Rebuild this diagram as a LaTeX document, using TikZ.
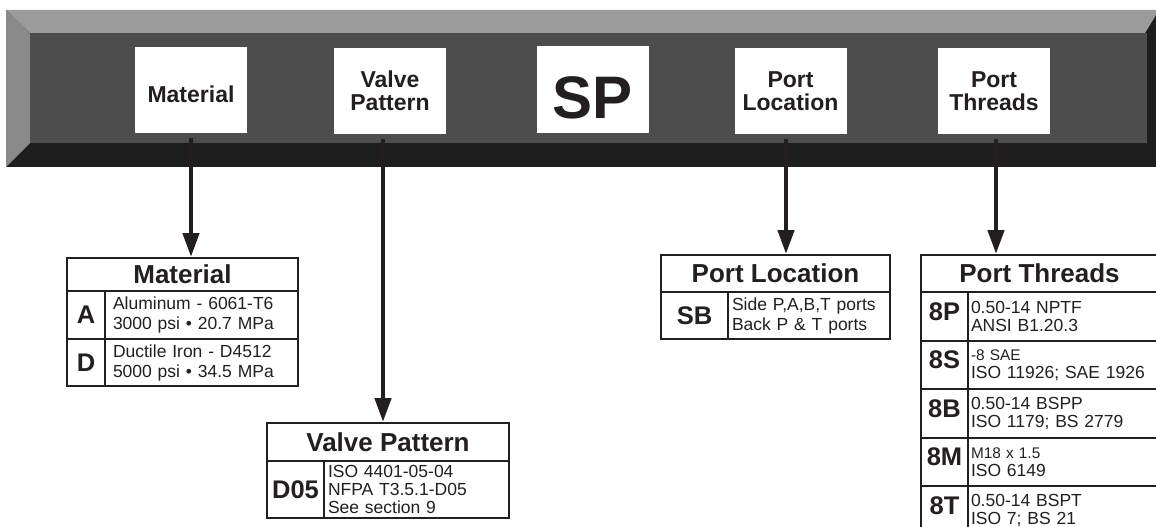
\documentclass[tikz,border=0pt]{standalone}
\usepackage{fontspec}
\usepackage{graphicx}
\setmainfont{Liberation Sans}
\usetikzlibrary{arrows.meta,math}
\definecolor{ink}{HTML}{231F20}
\definecolor{barlight}{HTML}{9B9B9B}
\definecolor{barside}{HTML}{8A8A8A}
\definecolor{barface}{HTML}{4D4D4D}
\definecolor{bardark}{HTML}{1E1E1E}
\tikzset{
  keybox/.style={fill=white, minimum width=112pt, minimum height=86pt, inner sep=0pt, align=center, text=ink,
    font=\fontsize{23}{22.5}\selectfont\bfseries},
  tabhead/.style={draw=ink, line width=2pt, anchor=north west, inner sep=0pt, text=ink,
    font=\fontsize{26}{28}\selectfont\bfseries},
  codecell/.style={draw=ink, line width=2pt, anchor=north west, inner sep=0pt, text=ink,
    font=\fontsize{25.5}{28}\selectfont\bfseries},
  lead/.style={font=\fontsize{17.5}{#1}\selectfont, execute at begin node={\fontsize{17.5}{#1}\selectfont}},
  desccell/.style={draw=ink, line width=2pt, anchor=north west, inner ysep=0pt, inner xsep=4pt, align=left, text=ink,
    lead=20pt},
  feed/.style={draw=ink, line width=4.5pt, -{Triangle[width=16pt,length=24pt]}, shorten <=5pt},
}
\begin{document}
\begin{tikzpicture}[x=1pt, y=-1pt]
  \tikzmath{\bl = 6; \bt = 10; \br = 1156; \bb = 167; \fl = 30; \ft = 33; \fr = 1147; \fb = 143;}
  \useasboundingbox (0,0) rectangle (1156,527);
  \clip (0,0) rectangle (1156,527);
  \fill[white] (0,0) rectangle (1156,527);
  % bar
  \fill[bardark] (\bl,\bt) rectangle (\br,\bb);
  \fill[barlight] (\bl,\bt) -- (\br,\bt) -- (\br,15) -- (1145,\ft) -- (\fl,\ft) -- cycle;
  \fill[barside] (\bl,\bt) -- (\fl,\ft) -- (\fl,\fb) -- (\bl,\bb) -- cycle;
  \fill[barface] (\fl,\ft) rectangle (\fr,\fb);
  \node[keybox, text height=25.5pt] (matbox) at (191,90) {Material};
  \node[keybox] (vpbox) at (390,91) {Valve\\Pattern};
  \node[keybox, text height=59pt, font=\fontsize{60}{60}\selectfont\bfseries] (spbox) at (592.5,89.5) {SP};
  \node[keybox] (plbox) at (790.5,91) {Port\\Location};
  \node[keybox] (ptbox) at (994,91) {Port\\Threads};
  % material
  \node[tabhead, minimum width=231pt, minimum height=33pt] (mattab) at (66,257) {Material};
  \node[codecell, minimum width=38pt, minimum height=48pt] (matA) at (66,290) {A};
  \node[desccell, minimum width=193pt, minimum height=48pt, inner xsep=8pt, text width=177pt] (matAd) at (104,290)
    {Aluminum - 6061-T6\\3000 psi \textbullet{} 20.7 MPa};
  \node[codecell, minimum width=38pt, minimum height=47pt] (matD) at (66,338) {D};
  \node[desccell, minimum width=193pt, minimum height=47pt, inner xsep=8pt, text width=177pt] (matDd) at (104,338)
    {Ductile Iron - D4512\\5000 psi \textbullet{} 34.5 MPa};
  % valve pattern
  \node[tabhead, minimum width=242pt, minimum height=38pt] (vptab) at (266,422) {Valve Pattern};
  \node[codecell, minimum width=57pt, minimum height=57pt] (vpD) at (266,460) {D05};
  \node[desccell, minimum width=185pt, minimum height=57pt, text width=177pt, lead=18pt] (vpDd) at (323,460)
    {ISO 4401-05-04\\NFPA T3.5.1-D05\\See section 9};
  % port location
  \node[tabhead, minimum width=229pt, minimum height=37pt] (pltab) at (660,254) {Port Location};
  \node[codecell, minimum width=67pt, minimum height=47pt] (plSB) at (660,291) {SB};
  \node[desccell, minimum width=162pt, minimum height=47pt, text width=154pt] (plSBd) at (727,291)
    {Side P,A,B,T ports\\Back P \& T ports};
  % port threads
  \node[tabhead, minimum width=237pt, minimum height=37pt] (pttab) at (920,254) {Port Threads};
  \node[codecell, minimum width=47pt, minimum height=49pt, text depth=10pt] (pt8P) at (920,291) {8P};
  \node[desccell, minimum width=190pt, minimum height=49pt, inner xsep=3pt, text width=184pt, lead=18pt] (pt8Pd) at (967,291)
    {0.50-14 NPTF\\ANSI B1.20.3};
  \node[codecell, minimum width=47pt, minimum height=48pt, text depth=10pt] (pt8S) at (920,340) {8S};
  \node[desccell, minimum width=190pt, minimum height=48pt, inner xsep=3pt, text width=184pt, lead=18pt] (pt8Sd) at (967,340)
    {\scalebox{0.88}{-8 SAE}\\ISO 11926; SAE 1926};
  \node[codecell, minimum width=47pt, minimum height=49pt, text depth=10pt] (pt8B) at (920,388) {8B};
  \node[desccell, minimum width=190pt, minimum height=49pt, inner xsep=3pt, text width=184pt, lead=18pt] (pt8Bd) at (967,388)
    {0.50-14 BSPP\\ISO 1179; BS 2779};
  \node[codecell, minimum width=47pt, minimum height=48pt, text depth=10pt] (pt8M) at (920,437) {8M};
  \node[desccell, minimum width=190pt, minimum height=48pt, inner xsep=3pt, text width=184pt, lead=18pt] (pt8Md) at (967,437)
    {\scalebox{0.88}{M18 x 1.5}\\ISO 6149};
  \node[codecell, minimum width=47pt, minimum height=49pt, text depth=10pt] (pt8T) at (920,485) {8T};
  \node[desccell, minimum width=190pt, minimum height=49pt, inner xsep=3pt, text width=184pt, lead=18pt] (pt8Td) at (967,485)
    {0.50-14 BSPT\\ISO 7; BS 21};
  % arrows
  \coordinate (matfoot) at (matbox.south);
  \coordinate (vpfoot) at ([xshift=-7pt]vpbox.south);
  \coordinate (plfoot) at ([xshift=-4.5pt]plbox.south);
  \coordinate (ptfoot) at ([xshift=2pt]ptbox.south);
  \draw[feed] (matfoot) -- (matfoot |- mattab.north);
  \draw[feed] (vpfoot) -- (vpfoot |- vptab.north);
  \draw[feed] (plfoot) -- (plfoot |- pltab.north);
  \draw[feed] (ptfoot) -- (ptfoot |- pttab.north);
\end{tikzpicture}
\end{document}
